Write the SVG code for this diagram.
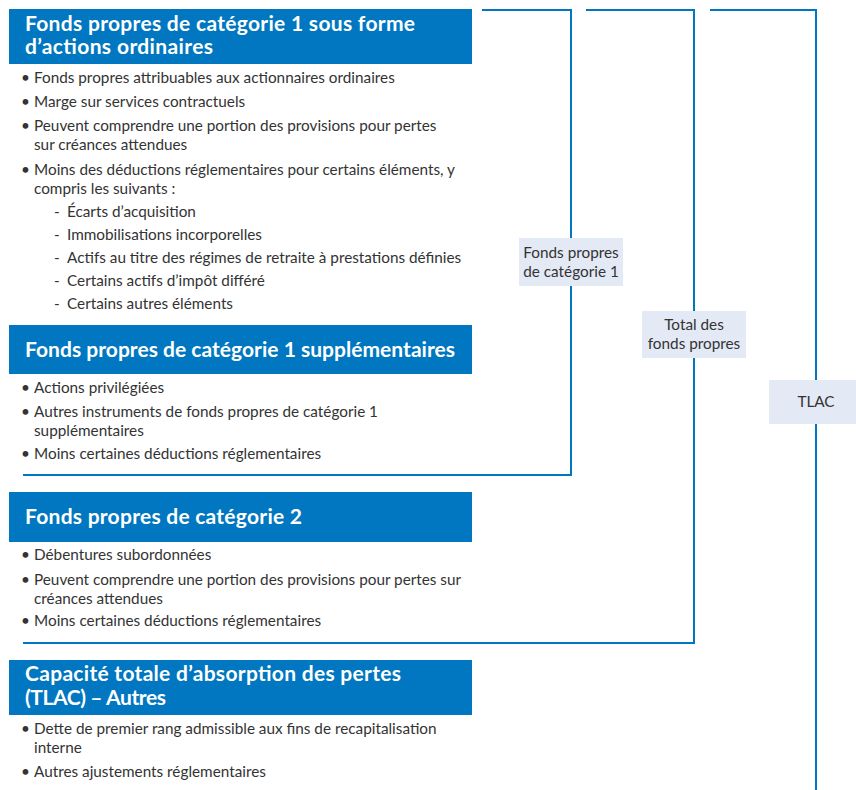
<svg xmlns="http://www.w3.org/2000/svg" width="856" height="790" viewBox="0 0 856 790">
<style>
.hdr{fill:#0077c0}
.ht{font-family:Lato,"Open Sans","Liberation Sans",sans-serif;font-weight:bold;font-size:21px;fill:#ffffff}
.bt{font-family:Lato,"Open Sans","Liberation Sans",sans-serif;font-size:15.3px;fill:#333333}
.lbl{fill:#e3e9f5}
.lt{font-family:Lato,"Open Sans","Liberation Sans",sans-serif;font-size:15.3px;fill:#333333;text-anchor:middle}
.ln{fill:none;stroke:#0077c0;stroke-width:2}
</style>
<rect width="856" height="790" fill="#ffffff"/>
<g id="connectors">
<polyline class="ln" points="482,10 571,10 571,475 23,475"/>
<polyline class="ln" points="586,10 694,10 694,643 23,643"/>
<polyline class="ln" points="710,10 816,10 816,790"/>
</g>
<g id="cet1">
<rect class="hdr" x="9" y="9" width="463" height="55"/>
<text class="ht" x="25" y="31" textLength="390" lengthAdjust="spacing">Fonds propres de catégorie 1 sous forme</text>
<text class="ht" x="25" y="54" textLength="188" lengthAdjust="spacing">d’actions ordinaires</text>
<text class="bt"><tspan x="21" y="83">•</tspan><tspan x="34" y="83">Fonds propres attribuables aux actionnaires ordinaires</tspan></text>
<text class="bt"><tspan x="21" y="107">•</tspan><tspan x="34" y="107">Marge sur services contractuels</tspan></text>
<text class="bt"><tspan x="21" y="131">•</tspan><tspan x="34" y="131">Peuvent comprendre une portion des provisions pour pertes</tspan><tspan x="34" y="150">sur créances attendues</tspan></text>
<text class="bt"><tspan x="21" y="175">•</tspan><tspan x="34" y="175">Moins des déductions réglementaires pour certains éléments, y</tspan><tspan x="34" y="194">compris les suivants :</tspan></text>
<text class="bt"><tspan x="54" y="217">-</tspan><tspan x="67" y="217">Écarts d’acquisition</tspan></text>
<text class="bt"><tspan x="54" y="240">-</tspan><tspan x="67" y="240">Immobilisations incorporelles</tspan></text>
<text class="bt"><tspan x="54" y="263">-</tspan><tspan x="67" y="263">Actifs au titre des régimes de retraite à prestations définies</tspan></text>
<text class="bt"><tspan x="54" y="286">-</tspan><tspan x="67" y="286">Certains actifs d’impôt différé</tspan></text>
<text class="bt"><tspan x="54" y="309">-</tspan><tspan x="67" y="309">Certains autres éléments</tspan></text>
</g>
<g id="at1">
<rect class="hdr" x="9" y="325" width="463" height="49"/>
<text class="ht" x="25" y="357" textLength="430" lengthAdjust="spacing">Fonds propres de catégorie 1 supplémentaires</text>
<text class="bt"><tspan x="21" y="393">•</tspan><tspan x="34" y="393">Actions privilégiées</tspan></text>
<text class="bt"><tspan x="21" y="417">•</tspan><tspan x="34" y="417">Autres instruments de fonds propres de catégorie 1</tspan><tspan x="34" y="436">supplémentaires</tspan></text>
<text class="bt"><tspan x="21" y="459">•</tspan><tspan x="34" y="459">Moins certaines déductions réglementaires</tspan></text>
</g>
<g id="t2">
<rect class="hdr" x="9" y="492" width="463" height="50"/>
<text class="ht" x="25" y="524" textLength="277" lengthAdjust="spacing">Fonds propres de catégorie 2</text>
<text class="bt"><tspan x="21" y="560">•</tspan><tspan x="34" y="560">Débentures subordonnées</tspan></text>
<text class="bt"><tspan x="21" y="585">•</tspan><tspan x="34" y="585">Peuvent comprendre une portion des provisions pour pertes sur</tspan><tspan x="34" y="604">créances attendues</tspan></text>
<text class="bt"><tspan x="21" y="626">•</tspan><tspan x="34" y="626">Moins certaines déductions réglementaires</tspan></text>
</g>
<g id="tlac-other">
<rect class="hdr" x="9" y="660" width="463" height="55"/>
<text class="ht" x="25" y="681" textLength="376" lengthAdjust="spacing">Capacité totale d’absorption des pertes</text>
<text class="ht" x="25" y="705" textLength="141" lengthAdjust="spacing">(TLAC) – Autres</text>
<text class="bt"><tspan x="21" y="734">•</tspan><tspan x="34" y="734">Dette de premier rang admissible aux fins de recapitalisation</tspan><tspan x="34" y="753">interne</tspan></text>
<text class="bt"><tspan x="21" y="777">•</tspan><tspan x="34" y="777">Autres ajustements réglementaires</tspan></text>
</g>
<g id="label-tier1">
<rect class="lbl" x="519" y="238" width="104" height="48"/>
<text class="lt" x="571" y="258">Fonds propres</text>
<text class="lt" x="571" y="277">de catégorie 1</text>
</g>
<g id="label-total">
<rect class="lbl" x="642" y="311" width="104" height="47"/>
<text class="lt" x="694" y="330">Total des</text>
<text class="lt" x="694" y="349">fonds propres</text>
</g>
<g id="label-tlac">
<rect class="lbl" x="769" y="380" width="87" height="44"/>
<text class="lt" x="816" y="407">TLAC</text>
</g>
</svg>
